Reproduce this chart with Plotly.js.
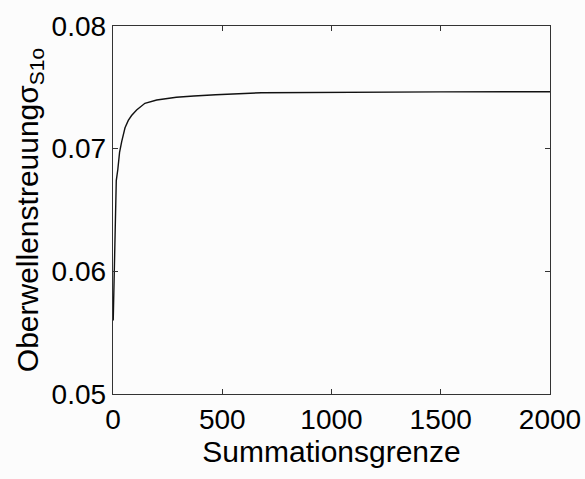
<!DOCTYPE html>
<html>
<head>
<meta charset="utf-8">
<script src="https://cdn.plot.ly/plotly-3.0.1.min.js"></script>
<style>html,body{margin:0;padding:0;background:#fcfcfc;}</style>
</head>
<body>
<div id="chart" style="width:585px;height:479px;"></div>
<script>
const summationsgrenze = [1, 3, 5, 12, 15, 22, 30, 40, 55, 70, 85, 108, 146, 200, 290, 370, 470, 680, 1000, 1250, 1500, 2000];
const streuung = [0.0560, 0.0578, 0.0582, 0.0660, 0.0674, 0.0683, 0.0697, 0.0706, 0.0717, 0.0723, 0.0727, 0.07315, 0.0737, 0.07397, 0.07419, 0.07429, 0.0744, 0.07456, 0.0746, 0.07462, 0.07463, 0.07464];
const xTicks = [0, 500, 1000, 1500, 2000];
const yTicks = [0.05, 0.06, 0.07, 0.08];
const yTickText = ['0.05', '0.06', '0.07', '0.08'];

const tickFont = {family: 'Liberation Sans, Arial, sans-serif', size: 28, color: '#000'};
const titleFont = {family: 'Liberation Sans, Arial, sans-serif', size: 30, color: '#000'};

Plotly.newPlot('chart', [{
  x: summationsgrenze,
  y: streuung,
  type: 'scatter',
  mode: 'lines',
  line: {color: '#111', width: 1.4, shape: 'linear'}
}], {
  width: 585, height: 479,
  margin: {l: 113, r: 35, t: 26, b: 85},
  paper_bgcolor: '#fcfcfc',
  plot_bgcolor: '#fcfcfc',
  font: tickFont,
  showlegend: false,
  xaxis: {
    range: [0, 2000], tickvals: xTicks, ticks: 'inside', ticklen: 5, tickcolor: '#333',
    showline: true, linecolor: '#333', linewidth: 1.3, mirror: 'ticks', showgrid: false, zeroline: false,
    tickfont: tickFont,
    title: {text: 'Summationsgrenze', font: titleFont, standoff: 2}
  },
  yaxis: {
    range: [0.05, 0.08], tickvals: yTicks, ticktext: yTickText, ticks: 'inside', ticklen: 5, tickcolor: '#333',
    showline: true, linecolor: '#333', linewidth: 1.3, mirror: 'ticks', showgrid: false, zeroline: false,
    tickfont: tickFont,
    title: {text: 'Oberwellenstreuungσ<sub>S1o</sub>', font: titleFont, standoff: 4}
  }
}, {displayModeBar: false, staticPlot: true});
</script>
</body>
</html>
